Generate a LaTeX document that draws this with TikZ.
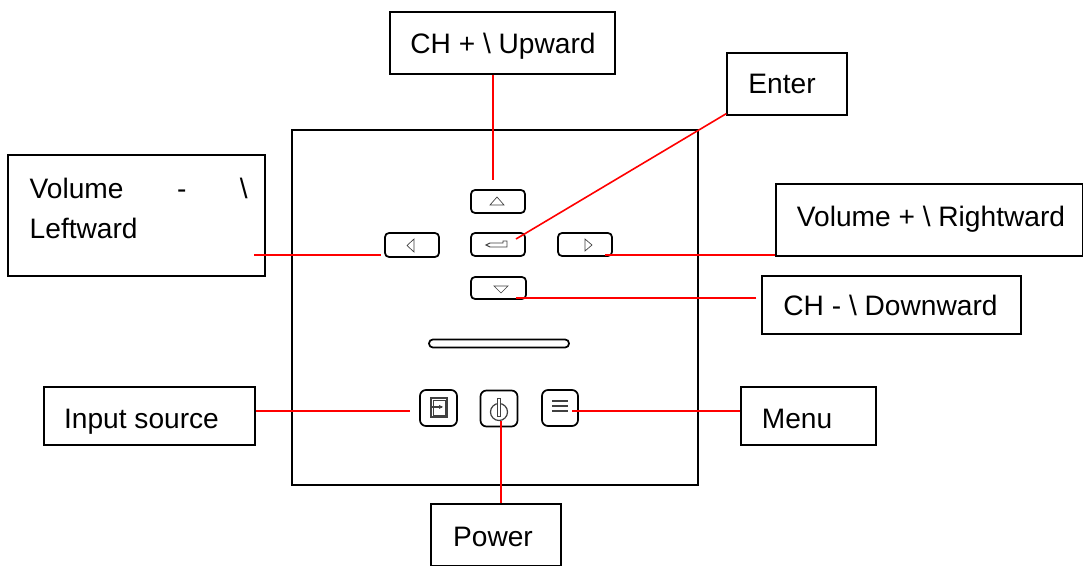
\documentclass[tikz,border=0pt]{standalone}
\usepackage{fontspec}
\setmainfont{Liberation Sans}
\newlength{\pxu}\setlength{\pxu}{0.75pt}
% text placed at a horizontal centre offset and a baseline offset from the node centre (in px)
\newcommand{\placed}[3]{\raisebox{#2\pxu}[0pt][0pt]{\makebox[0pt]{\hspace*{#1\pxu}\hspace*{#1\pxu}#3}}}
\tikzset{
  x=0.75pt,y=-0.75pt,
  box/.style={draw=black,line width=0.9pt,rectangle,inner sep=0pt,font=\fontsize{21.1pt}{30pt}\selectfont},
  panel/.style={draw=black,line width=1.1pt,rectangle,inner sep=0pt},
  btn/.style={draw=black,line width=1.3pt,rectangle,rounded corners=3pt,inner sep=0pt},
  icon/.style={draw=black!75,line width=0.5pt},
  lead/.style={draw=red,line width=1.2pt},
}
\begin{document}
\begin{tikzpicture}
\useasboundingbox (0,0) rectangle (1083,566);
\fill[white] (0,0) rectangle (1083,566);
% panel
\node[panel,minimum width=406\pxu,minimum height=355\pxu] (pan) at (495,307.5) {};
% label boxes
\node[box,minimum width=225\pxu,minimum height=62\pxu] (chup) at (502.5,43) {\placed{0.5}{-11}{CH + \textbackslash{} Upward}};
\node[box,minimum width=120\pxu,minimum height=62\pxu] (enter) at (787,84) {\placed{-5}{-10}{Enter}};
\node[box,minimum width=257\pxu,minimum height=121\pxu] (voldn) at (136.5,215.5) {\raisebox{-23.5\pxu}[0pt][0pt]{\hspace*{4.5\pxu}\makebox[218\pxu][l]{\parbox[b]{218\pxu}{Volume\hfill-\hfill\textbackslash\\Leftward}}}};
\node[box,minimum width=307\pxu,minimum height=72\pxu] (volup) at (929.5,220) {\placed{1.5}{-7}{Volume + \textbackslash{} Rightward}};
\node[box,minimum width=259\pxu,minimum height=58\pxu] (chdn) at (891.5,305) {\placed{-1}{-11}{CH - \textbackslash{} Downward}};
\node[box,minimum width=211\pxu,minimum height=58\pxu] (input) at (149.5,416) {\placed{-8}{-13}{Input source}};
\node[box,minimum width=135\pxu,minimum height=58\pxu] (menu) at (808.5,416) {\placed{-11.5}{-13}{Menu}};
\node[box,minimum width=130\pxu,minimum height=62\pxu] (power) at (496,535) {\placed{-3}{-12}{Power}};
% buttons
\node[btn,minimum width=54\pxu,minimum height=23\pxu] (bup) at (498,201.5) {};
\node[btn,minimum width=54\pxu,minimum height=24\pxu] (bleft) at (412,245) {};
\node[btn,minimum width=54\pxu,minimum height=23\pxu] (benter) at (498,244.5) {};
\node[btn,minimum width=54\pxu,minimum height=23\pxu] (bright) at (585,244.5) {};
\node[btn,minimum width=55\pxu,minimum height=22\pxu] (bdown) at (498.5,288) {};
\node[btn,rounded corners=2.9pt,minimum width=140\pxu,minimum height=8\pxu] (slider) at (499,343.5) {};
\node[btn,rounded corners=4.5pt,minimum width=37\pxu,minimum height=36\pxu] (binput) at (438.5,408) {};
\node[btn,rounded corners=4.5pt,minimum width=37\pxu,minimum height=36\pxu] (bpower) at (499,408.5) {};
\node[btn,rounded corners=4.5pt,minimum width=36\pxu,minimum height=36\pxu] (bmenu) at (560,408) {};
% icons
\draw[icon] (490,205) -- (504,205) -- (497,197) -- cycle;
\draw[icon] (407,245.5) -- (414,239) -- (414,252) -- cycle;
\draw[icon,line width=0.7pt] (486,245) -- (490,243) -- (503,243) -- (503,241) -- (507,241) -- (507,247) -- (490,247) -- cycle;
\draw[icon] (585,239) -- (585,251) -- (592,245) -- cycle;
\draw[icon] (494,286) -- (508,286) -- (501,293) -- cycle;
\draw[icon,line width=0.9pt] (431,398) rectangle (447,417);
\draw[icon] (433,400) rectangle (445,415);
\draw[icon,line width=0.9pt] (431,407) -- (442,407);
\fill[black!75] (443,407) -- (439,405) -- (439,409) -- cycle;
\draw[icon,line width=0.9pt] (499,412) circle[radius=8.5];
\draw[icon,fill=white,line width=0.6pt] (497.7,398) rectangle (500.3,416);
\draw[icon,line width=1.2pt] (552,401) -- (568,401) (552,406) -- (568,406) (552,411) -- (568,411);
% free ends of the leaders
\coordinate (aup) at (493,180);
\coordinate (aenter) at (516,239);
\coordinate (aleft) at (381,255);
\coordinate (aright) at (605,255);
\coordinate (adown) at (516,298);
\coordinate (ainput) at (410,411);
\coordinate (amenu) at (572,411);
\coordinate (apower) at (501,421);
% leaders
\draw[lead] (chup.south -| aup) -- (aup);
\draw[lead] (enter.south west) ++(0,-2) -- (aenter);
\draw[lead] (254,255) -- (aleft);
\draw[lead] (volup.west |- aright) -- (aright);
\draw[lead] (chdn.west |- adown) ++(-5,0) -- (adown);
\draw[lead] (input.east |- ainput) -- (ainput);
\draw[lead] (menu.west |- amenu) -- (amenu);
\draw[lead] (power.north -| apower) -- (apower);
\end{tikzpicture}
\end{document}
